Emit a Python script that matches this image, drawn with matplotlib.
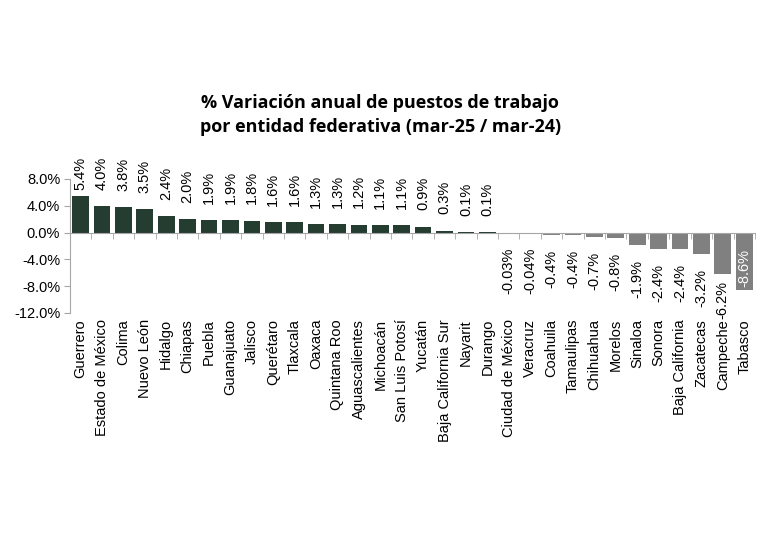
import numpy as np
import matplotlib.pyplot as plt
from matplotlib.ticker import FuncFormatter

estados = ["Guerrero", "Estado de México", "Colima", "Nuevo León", "Hidalgo", "Chiapas",
           "Puebla", "Guanajuato", "Jalisco", "Querétaro", "Tlaxcala", "Oaxaca",
           "Quintana Roo", "Aguascalientes", "Michoacán", "San Luis Potosí", "Yucatán",
           "Baja California Sur", "Nayarit", "Durango", "Ciudad de México", "Veracruz",
           "Coahuila", "Tamaulipas", "Chihuahua", "Morelos", "Sinaloa", "Sonora",
           "Baja California", "Zacatecas", "Campeche", "Tabasco"]
variacion = [5.4, 4.0, 3.8, 3.5, 2.4, 2.0, 1.9, 1.9, 1.8, 1.6, 1.6, 1.3, 1.3, 1.2, 1.1,
             1.1, 0.9, 0.3, 0.1, 0.1, -0.03, -0.04, -0.4, -0.4, -0.7, -0.8, -1.9, -2.4,
             -2.4, -3.2, -6.2, -8.6]
etiquetas = ["5.4%", "4.0%", "3.8%", "3.5%", "2.4%", "2.0%", "1.9%", "1.9%", "1.8%", "1.6%",
             "1.6%", "1.3%", "1.3%", "1.2%", "1.1%", "1.1%", "0.9%", "0.3%", "0.1%", "0.1%",
             "-0.03%", "-0.04%", "-0.4%", "-0.4%", "-0.7%", "-0.8%", "-1.9%", "-2.4%",
             "-2.4%", "-3.2%", "-6.2%", "-8.6%"]

verde = '#253c30'
gris = '#808080'
eje = '#a6a6a6'

plt.rcParams['font.family'] = ['Liberation Sans', 'DejaVu Sans']

fig = plt.figure(figsize=(7.68, 5.49), dpi=100)
ax = fig.add_axes([0.091, 0.430, 0.892, 0.244])

x = np.arange(len(estados))
vals = np.array(variacion)
colores = [verde if v > 0 else gris for v in vals]
ax.bar(x, vals, width=0.78, color=colores, zorder=2)

ax.set_xlim(-0.5, len(estados) - 0.5)
ax.set_ylim(-12, 8)
ax.set_yticks([-12, -8, -4, 0, 4, 8])
ax.yaxis.set_major_formatter(FuncFormatter(lambda v, p: '{:.1f}%'.format(v)))
ax.tick_params(axis='y', labelsize=10.5, length=4, color=eje, pad=3)

# eje x en el cero, marcas entre categorias
ax.spines['bottom'].set_position(('data', 0))
ax.spines['bottom'].set_color(eje)
ax.spines['left'].set_color(eje)
ax.spines['top'].set_visible(False)
ax.spines['right'].set_visible(False)
ax.set_xticks(x)
ax.set_xticklabels([])
ax.tick_params(axis='x', which='major', length=0)
ax.set_xticks(np.arange(len(estados) + 1) - 0.5, minor=True)
ax.tick_params(axis='x', which='minor', length=4, color=eje, direction='out')

trans = ax.get_xaxis_transform()
for i, nombre in enumerate(estados):
    ax.text(i, -0.045, nombre, transform=trans, rotation=90, ha='center', va='top',
            fontsize=10.5)

# etiquetas de datos
for i, (v, t) in enumerate(zip(vals, etiquetas)):
    if v >= 0:
        ax.text(i, min(v + 2.4, 6.3), t, rotation=90, ha='center', va='bottom',
                fontsize=10.5)
    elif v < -8:
        ax.text(i, v + 0.4, t, rotation=90, ha='center', va='bottom',
                fontsize=10.5, color='white')
    else:
        ax.text(i, max(v - 2.25, -7.2), t, rotation=90, ha='center', va='top',
                fontsize=10.5)

fig.text(0.495, 0.790, '% Variación anual de puestos de trabajo\npor entidad federativa (mar-25 / mar-24)',
         ha='center', va='center', fontsize=13, fontweight='bold',
         family=['Open Sans', 'DejaVu Sans'], linespacing=1.4)

fig.savefig('out.png', dpi=100, facecolor='white')
